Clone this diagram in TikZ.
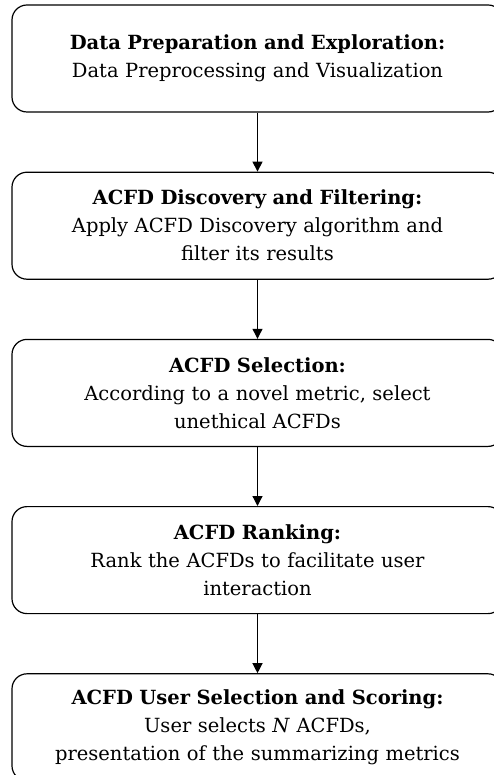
\documentclass[tikz,border=0pt]{standalone}
\usepackage{fontspec}
\setmainfont{DejaVu Serif}
\usepackage{tikz}
\usetikzlibrary{positioning, arrows.meta}

\begin{document}
\begin{tikzpicture}[->,>={Triangle[width=10pt,length=10pt]},line width=1.2pt,auto,node distance=59pt]
\tikzstyle{every node}=[font=\fontsize{19.5}{28}\selectfont]
\tikzstyle{stage}=[draw=black,fill=white,text=black,rounded corners=15pt,minimum width=491pt,minimum height=107pt,text width=480pt,align=center,inner sep=0pt]
\useasboundingbox (0,0) rectangle (493pt,-775pt);
\node[stage] (A) at (257.5pt,-58.5pt) {\textbf{Data Preparation and Exploration:}\\Data Preprocessing and Visualization};
\node[stage] (B) [below=of A] {\textbf{ACFD Discovery and Filtering:}\\Apply ACFD Discovery algorithm and\\filter its results};
\node[stage] (C) [below=of B] {\textbf{ACFD Selection:}\\According to a novel metric, select\\unethical ACFDs};
\node[stage] (D) [below=of C] {\textbf{ACFD Ranking:}\\Rank the ACFDs to facilitate user\\interaction};
\node[stage] (E) [below=of D] {\textbf{ACFD User Selection and Scoring:}\\User selects \textit{N} ACFDs,\\presentation of the summarizing metrics};

\path
(A) edge (B)
(B) edge (C)
(C) edge (D)
(D) edge (E);
\end{tikzpicture}
\end{document}
